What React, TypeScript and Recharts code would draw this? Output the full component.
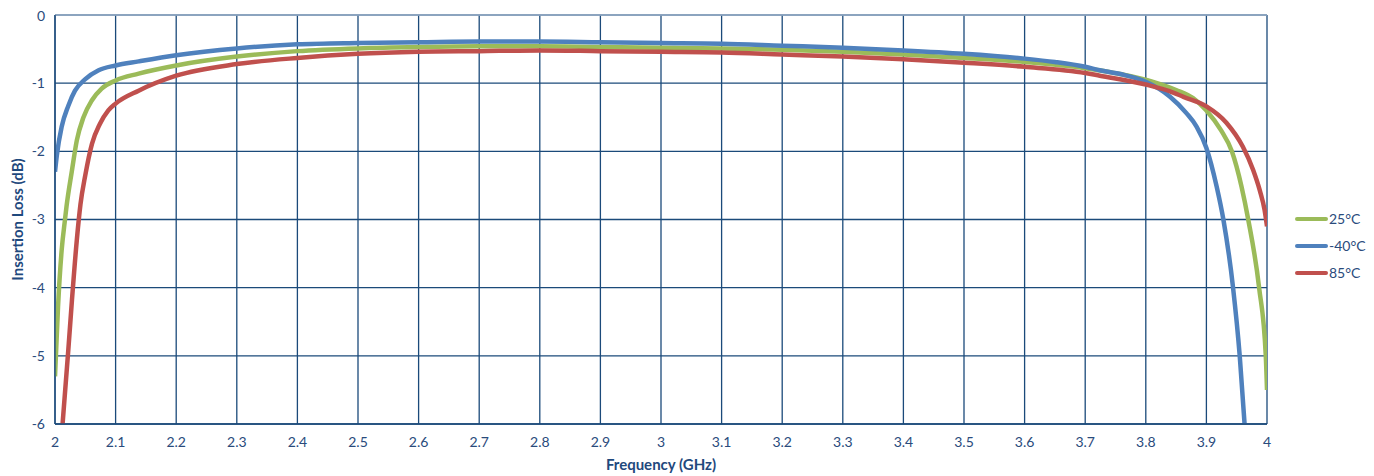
import { LineChart, Line, XAxis, YAxis, CartesianGrid, ReferenceLine } from "recharts";

const freqTicks = [2, 2.1, 2.2, 2.3, 2.4, 2.5, 2.6, 2.7, 2.8, 2.9, 3, 3.1, 3.2, 3.3, 3.4, 3.5, 3.6, 3.7, 3.8, 3.9, 4];
const lossTicks = [-6, -5, -4, -3, -2, -1, 0];

// 25°C
const greenFreq = [2.0, 2.005, 2.011, 2.0165, 2.019, 2.028, 2.036, 2.047, 2.061, 2.077, 2.1, 2.138, 2.2, 2.3, 2.4, 2.5, 2.6, 2.7, 2.8, 2.9, 3.0, 3.1, 3.2, 3.3, 3.4, 3.5, 3.6, 3.7, 3.76, 3.812, 3.85, 3.878, 3.9, 3.924, 3.942, 3.958, 3.969, 3.987, 3.998, 4.0];
const greenLoss = [-5.3, -4.28, -3.45, -3.0, -2.81, -2.28, -1.84, -1.5, -1.25, -1.08, -0.96, -0.86, -0.74, -0.61, -0.53, -0.49, -0.47, -0.46, -0.46, -0.47, -0.48, -0.49, -0.51, -0.54, -0.58, -0.63, -0.69, -0.78, -0.87, -0.98, -1.1, -1.22, -1.4, -1.69, -2.0, -2.52, -3.0, -4.0, -5.0, -5.5];

// -40°C
const blueFreq = [2.0, 2.003, 2.011, 2.022, 2.033, 2.05, 2.072, 2.1, 2.138, 2.2, 2.3, 2.4, 2.5, 2.6, 2.7, 2.8, 2.9, 3.0, 3.1, 3.2, 3.3, 3.4, 3.5, 3.6, 3.65, 3.7, 3.724, 3.76, 3.8, 3.84, 3.867, 3.884, 3.9, 3.917, 3.928, 3.944, 3.955, 3.963];
const blueLoss = [-2.3, -2.06, -1.64, -1.33, -1.11, -0.94, -0.81, -0.74, -0.68, -0.59, -0.49, -0.43, -0.41, -0.4, -0.39, -0.39, -0.4, -0.41, -0.42, -0.45, -0.48, -0.52, -0.57, -0.64, -0.69, -0.76, -0.81, -0.87, -0.98, -1.2, -1.44, -1.64, -1.95, -2.52, -3.0, -4.0, -5.0, -6.0];

// 85°C
const redFreq = [2.0125, 2.022, 2.028, 2.036, 2.042, 2.05, 2.061, 2.074, 2.088, 2.1, 2.138, 2.2, 2.3, 2.4, 2.5, 2.6, 2.7, 2.8, 2.9, 3.0, 3.1, 3.2, 3.3, 3.4, 3.5, 3.6, 3.7, 3.724, 3.8, 3.84, 3.862, 3.9, 3.933, 3.96, 3.977, 3.988, 3.996, 4.0];
const redLoss = [-6.0, -4.91, -4.18, -3.3, -2.78, -2.35, -1.89, -1.6, -1.4, -1.3, -1.11, -0.89, -0.72, -0.63, -0.57, -0.54, -0.53, -0.52, -0.53, -0.54, -0.55, -0.58, -0.61, -0.65, -0.7, -0.76, -0.85, -0.89, -1.02, -1.12, -1.2, -1.34, -1.58, -1.93, -2.27, -2.57, -2.86, -3.1];

const series = [
  { name: "25°C", color: "#9BBB59", freq: greenFreq, loss: greenLoss },
  { name: "-40°C", color: "#4F81BD", freq: blueFreq, loss: blueLoss },
  { name: "85°C", color: "#C0504D", freq: redFreq, loss: redLoss },
];

const toRows = (f: number[], v: number[]) => f.map((x, i) => ({ f: x, v: v[i] }));

const GRID = "#1B4A7A";
const TEXT = "#2A4B7C";
const FONT = "Lato, 'Open Sans', sans-serif";

export default function App() {
  return (
    <div style={{ position: "relative", width: 1366, height: 468, fontFamily: FONT }}>
      <LineChart width={1366} height={468} margin={{ top: 7, right: 107, left: 0, bottom: 0 }}>
        <CartesianGrid stroke={GRID} strokeWidth={1.3} />
        <XAxis
          type="number"
          dataKey="f"
          domain={[2, 4]}
          ticks={freqTicks}
          allowDataOverflow
          interval={0}
          height={52}
          stroke={GRID}
          strokeWidth={1.3}
          tickLine={false}
          tickSize={0}
          tickMargin={13}
          tick={{ fontSize: 14, fill: TEXT, fontFamily: FONT }}
          tickFormatter={(v) => String(Number(v.toFixed(1)))}
          label={{
            value: "Frequency (GHz)",
            position: "center",
            dy: 15,
            style: { fontSize: 15, fontWeight: 700, fill: "#1F497D", fontFamily: FONT },
          }}
        />
        <YAxis
          type="number"
          domain={[-6, 0]}
          ticks={lossTicks}
          allowDataOverflow
          width={47}
          stroke={GRID}
          strokeWidth={1.3}
          tickLine={false}
          tickSize={0}
          tickMargin={10}
          tick={{ fontSize: 14, fill: TEXT, fontFamily: FONT }}
          label={{
            value: "Insertion Loss (dB)",
            angle: -90,
            position: "center",
            dx: -14,
            style: { fontSize: 15, fontWeight: 700, fill: "#1F497D", fontFamily: FONT },
          }}
        />
        <ReferenceLine y={0} stroke="#9FB3CB" strokeWidth={1.5} />
        {series.map((s) => (
          <Line
            key={s.name}
            data={toRows(s.freq, s.loss)}
            dataKey="v"
            name={s.name}
            type="monotone"
            stroke={s.color}
            strokeWidth={4.5}
            dot={false}
            activeDot={false}
            isAnimationActive={false}
          />
        ))}
      </LineChart>

      <div style={{ position: "absolute", left: 1287, top: 197 }}>
        {series.map((s) => (
          <div key={s.name} style={{ display: "flex", alignItems: "center", height: 27 }}>
            <div style={{ width: 33, height: 4, background: s.color, borderRadius: 2 }} />
            <span style={{ marginLeft: 1, fontSize: 14, color: TEXT }}>{s.name}</span>
          </div>
        ))}
      </div>
    </div>
  );
}
